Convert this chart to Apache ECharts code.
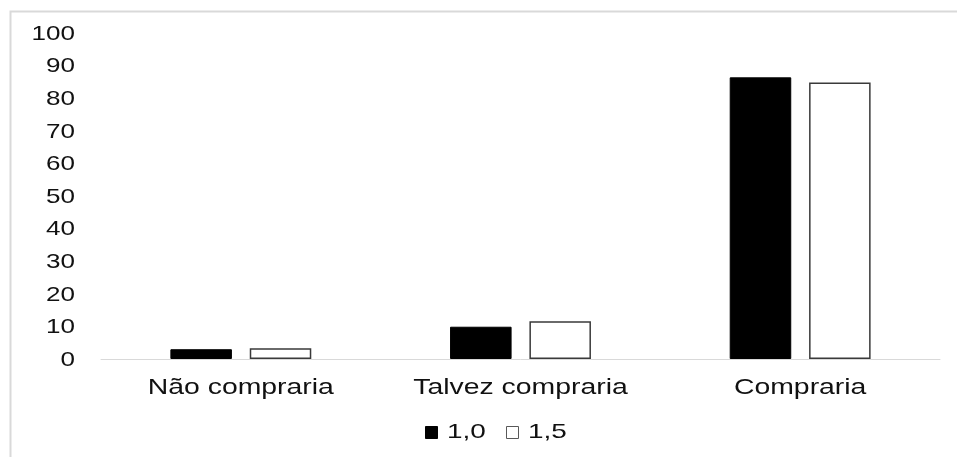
<!DOCTYPE html>
<html>
<head>
<meta charset="utf-8">
<script src="https://cdn.jsdelivr.net/npm/echarts@6/dist/echarts.min.js"></script>
<style>
  html, body { margin: 0; padding: 0; background: #fff; }
  #chart { width: 957px; height: 457px; }
</style>
</head>
<body>
<div id="chart"></div>
<script>
// Purchase intention by concentration
const categories = ['Não compraria', 'Talvez compraria', 'Compraria'];
const seriesNames = ['1,0', '1,5'];
const values10 = [3.0, 9.9, 86.4];
const values15 = [3.3, 11.6, 84.8];
const yTicks = [0, 10, 20, 30, 40, 50, 60, 70, 80, 90, 100];

const font = 'Liberation Sans, Arial, sans-serif';
const seriesColors = ['#000', '#fff'];
const seriesBorders = ['#000', '#3a3a3a'];
const chart = echarts.init(document.getElementById('chart'));

chart.setOption({
  animation: false,
  backgroundColor: '#fff',
  grid: { left: 101, right: 17, top: 33, bottom: 98 },
  xAxis: {
    type: 'category',
    data: categories,
    axisLine: { show: true, lineStyle: { color: '#d9d9d9', width: 1 } },
    axisTick: { show: false },
    axisLabel: { show: false }
  },
  yAxis: {
    type: 'value',
    min: yTicks[0],
    max: yTicks[yTicks.length - 1],
    interval: 10,
    axisLine: { show: false },
    axisTick: { show: false },
    splitLine: { show: false },
    axisLabel: { show: false }
  },
  series: [
    {
      name: seriesNames[0],
      type: 'bar',
      data: values10,
      barWidth: '22%',
      barGap: '29%',
      itemStyle: { color: seriesColors[0], borderColor: seriesBorders[0], borderWidth: 1 }
    },
    {
      name: seriesNames[1],
      type: 'bar',
      data: values15,
      barWidth: '22%',
      itemStyle: { color: seriesColors[1], borderColor: seriesBorders[1], borderWidth: 1.5 }
    }
  ]
});

// Wide (horizontally stretched) labels drawn as graphic text, placed via the axes
function wideText(x, y, text, align, size, sx) {
  return {
    type: 'text',
    x: x, y: y,
    scaleX: sx,
    silent: true,
    style: {
      text: text, x: 0, y: 0,
      align: align, verticalAlign: 'middle',
      font: size + 'px ' + font,
      fill: '#111'
    }
  };
}

const graphics = [{
  type: 'rect',
  shape: { x: 10.5, y: 11.5, width: 1000, height: 1000 },
  style: { fill: 'none', stroke: '#d9d9d9', lineWidth: 2 },
  silent: true
}];

const axisY = chart.convertToPixel({ yAxisIndex: 0 }, 0);
categories.forEach(function (c) {
  const px = chart.convertToPixel({ xAxisIndex: 0 }, c);
  graphics.push(wideText(px, axisY + 29, c, 'center', 22, 1.29));
});

yTicks.forEach(function (v) {
  const py = chart.convertToPixel({ yAxisIndex: 0 }, v);
  graphics.push(wideText(75, py + 1, String(v), 'right', 21, 1.24));
});

// Legend row
const legendY = 432;
const legendStart = 425;
const itemPitch = 81;
seriesNames.forEach(function (name, i) {
  const lx = legendStart + i * itemPitch;
  graphics.push({
    type: 'rect',
    silent: true,
    shape: { x: lx + 0.5, y: legendY - 5.5, width: 12, height: 12 },
    style: { fill: seriesColors[i], stroke: i === 0 ? '#000' : '#595959', lineWidth: 1 }
  });
  graphics.push(wideText(lx + 22, legendY, name, 'left', 21, 1.33));
});

chart.setOption({ graphic: graphics });
</script>
</body>
</html>
